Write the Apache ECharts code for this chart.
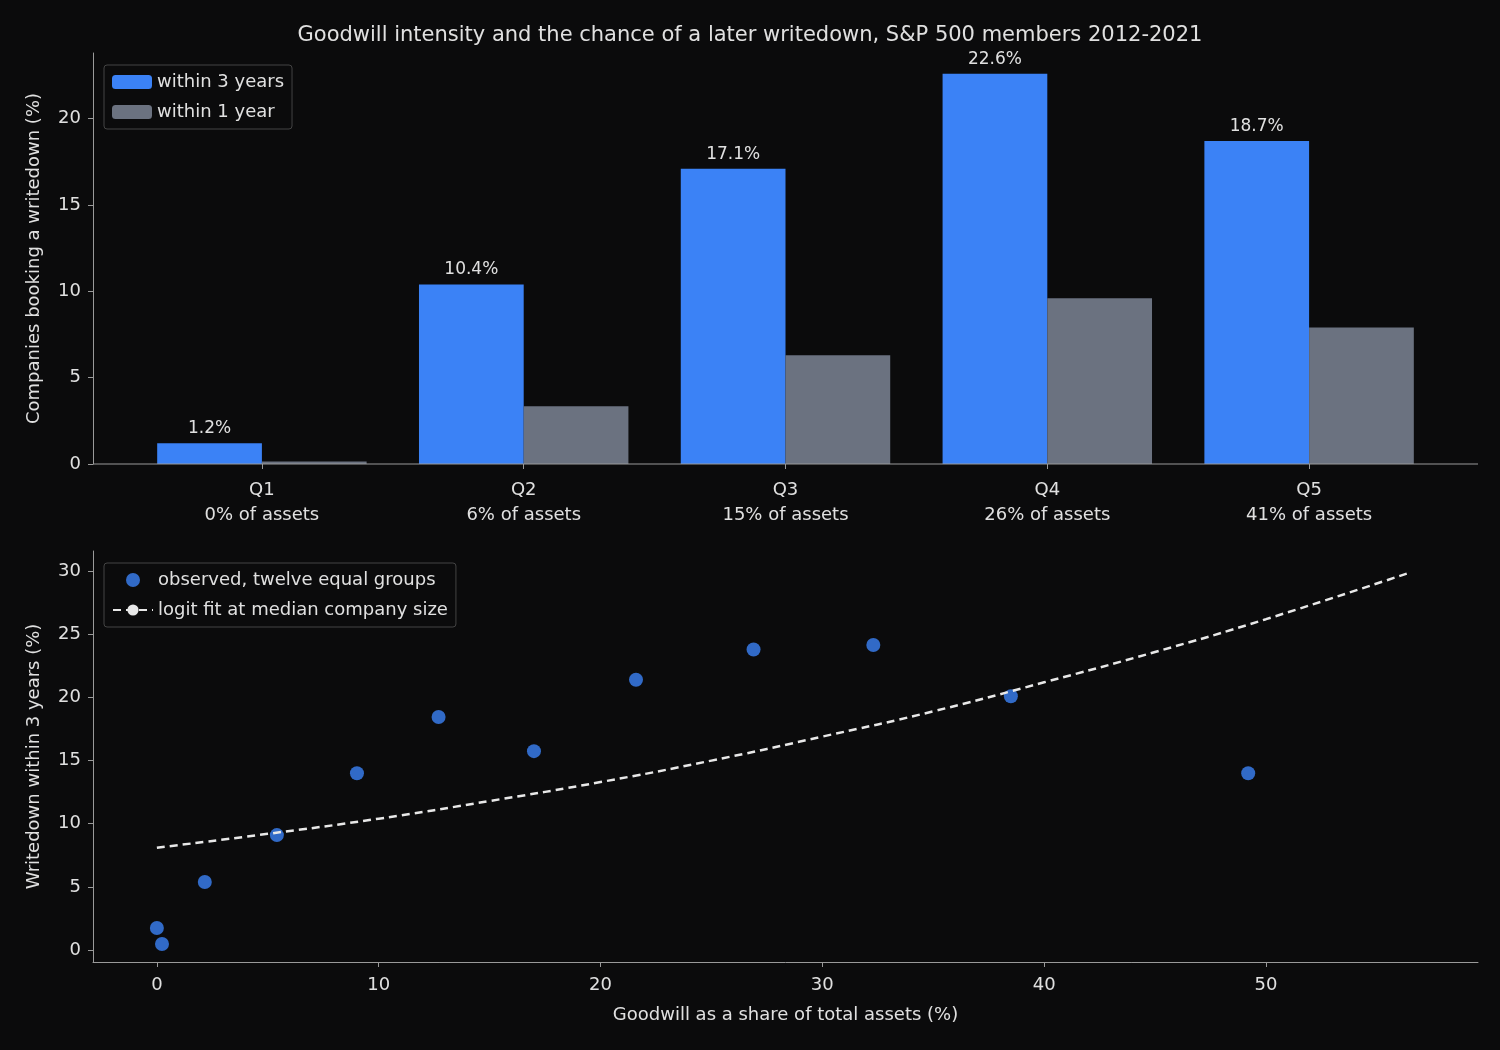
<!DOCTYPE html>
<html>
<head>
<meta charset="utf-8">
<script src="https://cdn.jsdelivr.net/npm/echarts@6/dist/echarts.min.js"></script>
<style>
  html, body { margin: 0; padding: 0; background: #0b0b0c; }
  #main { width: 1500px; height: 1050px; }
</style>
</head>
<body>
<div id="main"></div>
<script>
var quintiles = ['Q1', 'Q2', 'Q3', 'Q4', 'Q5']
var quintileShare = ['0% of assets', '6% of assets', '15% of assets', '26% of assets', '41% of assets']
var within3 = [1.2, 10.4, 17.1, 22.6, 18.7]
var within1 = [0.15, 3.35, 6.3, 9.6, 7.9]

var groupShare = [0, 0.23, 2.16, 5.41, 9.02, 12.7, 17.0, 21.6, 26.9, 32.3, 38.5, 49.2]
var groupRate = [1.74, 0.47, 5.38, 9.1, 14.0, 18.45, 15.75, 21.4, 23.8, 24.15, 20.1, 14.0]

var fitShare = [0, 5, 10, 15, 20, 25, 30, 35, 40, 45, 50, 56.5]
var fitRate = [8.1, 9.2, 10.4, 11.8, 13.3, 15.0, 16.9, 18.9, 21.2, 23.6, 26.2, 29.9]

var topTicks = [0, 5, 10, 15, 20]
var bottomYTicks = [0, 5, 10, 15, 20, 25, 30]
var bottomXTicks = [0, 10, 20, 30, 40, 50]

var txt = '#e0e0e0'
var axisCol = '#9a9a9a'
var font = 'DejaVu Sans'

var myChart = echarts.init(document.getElementById('main'))
var option = {
  backgroundColor: '#0b0b0c',
  textStyle: { fontFamily: font, color: txt },
  animation: false,
  title: {
    text: 'Goodwill intensity and the chance of a later writedown, S&P 500 members 2012-2021',
    left: 'center',
    top: 20,
    textStyle: { color: txt, fontSize: 21, fontWeight: 'normal', fontFamily: font }
  },
  legend: [
    {
      data: ['within 3 years', 'within 1 year'],
      orient: 'vertical',
      left: 104,
      top: 65,
      padding: [8, 8, 8, 8],
      itemGap: 12,
      itemWidth: 40,
      itemHeight: 14,
      backgroundColor: '#0b0b0c',
      borderColor: '#444',
      borderWidth: 1,
      borderRadius: 3,
      textStyle: { color: txt, fontSize: 18, fontFamily: font }
    },
    {
      data: ['observed, twelve equal groups', 'logit fit at median company size'],
      orient: 'vertical',
      left: 104,
      top: 563,
      padding: [8, 8, 8, 8],
      itemGap: 12,
      itemWidth: 40,
      itemHeight: 14,
      backgroundColor: '#0b0b0c',
      borderColor: '#444',
      borderWidth: 1,
      borderRadius: 3,
      textStyle: { color: txt, fontSize: 18, fontFamily: font }
    }
  ],
  grid: [
    { left: 131, right: 60, top: 53, bottom: 586 },
    { left: 93, right: 22, top: 551, bottom: 88 }
  ],
  graphic: [
    {
      type: 'line',
      shape: { x1: 93, y1: 464, x2: 1478, y2: 464 },
      style: { stroke: axisCol, lineWidth: 1.2 },
      z: 10
    }
  ],
  xAxis: [
    {
      type: 'category',
      gridIndex: 0,
      data: quintiles,
      axisLine: { show: false },
      axisTick: { show: true, alignWithLabel: true, lineStyle: { color: axisCol } },
      axisLabel: {
        color: txt,
        fontSize: 18,
        lineHeight: 25,
        margin: 14,
        formatter: function (v, i) { return v + '\n' + quintileShare[i] }
      }
    },
    {
      type: 'value',
      gridIndex: 1,
      min: -2.88,
      max: 59.56,
      name: 'Goodwill as a share of total assets (%)',
      nameLocation: 'middle',
      nameGap: 44,
      nameTextStyle: { color: txt, fontSize: 18 },
      splitLine: { show: false },
      axisLine: { show: true, onZero: false, lineStyle: { color: axisCol } },
      axisTick: { show: true, customValues: bottomXTicks, lineStyle: { color: axisCol } },
      axisLabel: { color: txt, fontSize: 18, margin: 14, customValues: bottomXTicks }
    }
  ],
  yAxis: [
    {
      type: 'value',
      gridIndex: 0,
      min: 0,
      max: 23.8,
      offset: 38,
      name: 'Companies booking a writedown (%)',
      nameLocation: 'middle',
      nameGap: 50,
      nameTextStyle: { color: txt, fontSize: 18 },
      splitLine: { show: false },
      axisLine: { show: true, lineStyle: { color: axisCol } },
      axisTick: { show: true, customValues: topTicks, lineStyle: { color: axisCol } },
      axisLabel: { color: txt, fontSize: 18, margin: 12, customValues: topTicks }
    },
    {
      type: 'value',
      gridIndex: 1,
      min: -0.95,
      max: 31.6,
      name: 'Writedown within 3 years (%)',
      nameLocation: 'middle',
      nameGap: 50,
      nameTextStyle: { color: txt, fontSize: 18 },
      splitLine: { show: false },
      axisLine: { show: true, onZero: false, lineStyle: { color: axisCol } },
      axisTick: { show: true, customValues: bottomYTicks, lineStyle: { color: axisCol } },
      axisLabel: { color: txt, fontSize: 18, margin: 12, customValues: bottomYTicks }
    }
  ],
  series: [
    {
      name: 'within 3 years',
      type: 'bar',
      xAxisIndex: 0,
      yAxisIndex: 0,
      data: within3,
      barGap: '0%',
      barCategoryGap: '20%',
      itemStyle: { color: '#3b82f6' },
      label: {
        show: true,
        position: 'top',
        color: txt,
        fontSize: 17,
        distance: 6,
        formatter: function (p) { return p.value.toFixed(1) + '%' }
      }
    },
    {
      name: 'within 1 year',
      type: 'bar',
      xAxisIndex: 0,
      yAxisIndex: 0,
      data: within1,
      itemStyle: { color: '#6b7280' }
    },
    {
      name: 'observed, twelve equal groups',
      type: 'scatter',
      xAxisIndex: 1,
      yAxisIndex: 1,
      symbolSize: 14,
      itemStyle: { color: '#3b82f6' },
      data: groupShare.map(function (x, i) { return [x, groupRate[i]] })
    },
    {
      name: 'logit fit at median company size',
      type: 'line',
      xAxisIndex: 1,
      yAxisIndex: 1,
      smooth: true,
      showSymbol: false,
      symbol: 'none',
      lineStyle: { color: '#e8e8e8', width: 2.5, type: [8, 5] },
      itemStyle: { color: '#e8e8e8' },
      data: fitShare.map(function (x, i) { return [x, fitRate[i]] })
    }
  ]
}
option && myChart.setOption(option)
</script>
</body>
</html>
